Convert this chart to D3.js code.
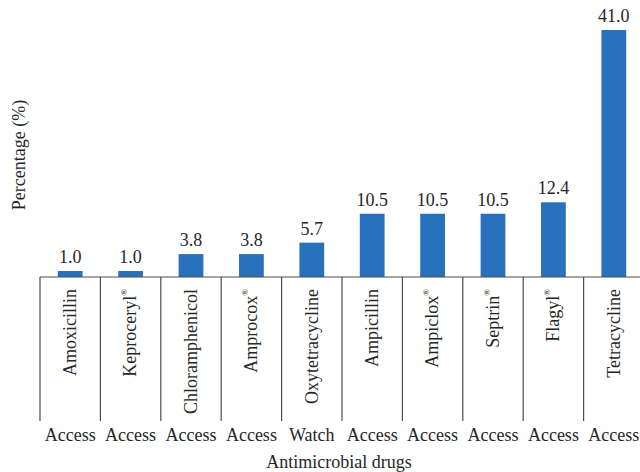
<!DOCTYPE html>
<html>
<head>
<meta charset="utf-8">
<script src="https://cdn.jsdelivr.net/npm/d3@7"></script>
<style>
  body { margin: 0; background: #fff; }
</style>
</head>
<body>
<div id="chart"></div>
<script>
const drugs = ["Amoxicillin", "Keproceryl", "Chloramphenicol", "Amprocox", "Oxytetracycline",
               "Ampicillin", "Ampiclox", "Septrin", "Flagyl", "Tetracycline"];
const registered = [false, true, false, true, false, false, true, true, true, false];
const groups = ["Access", "Access", "Access", "Access", "Watch",
                "Access", "Access", "Access", "Access", "Access"];
const percentages = [1.0, 1.0, 3.8, 3.8, 5.7, 10.5, 10.5, 10.5, 12.4, 41.0];

const width = 640, height = 472;
const margin = { left: 40, right: -4, top: 30, bottom: 195 };
const baseY = height - margin.bottom;
const fs = 18;

const svg = d3.select("#chart").append("svg")
    .attr("width", width)
    .attr("height", height)
    .attr("font-family", "'Liberation Serif', 'Times New Roman', serif")
    .attr("fill", "#262626");

const x = d3.scaleBand()
    .domain(drugs)
    .range([margin.left, width - margin.right])
    .padding(0);

const y = d3.scaleLinear()
    .domain([0, d3.max(percentages)])
    .range([baseY, margin.top]);

const barW = x.bandwidth() * 0.41;

// bars
svg.append("g").selectAll("rect")
    .data(drugs)
    .join("rect")
    .attr("x", d => x(d) + (x.bandwidth() - barW) / 2)
    .attr("y", (d, i) => y(percentages[i]))
    .attr("width", barW)
    .attr("height", (d, i) => baseY - y(percentages[i]))
    .attr("fill", "#2771bd");

// value labels
svg.append("g").selectAll("text")
    .data(drugs)
    .join("text")
    .attr("x", d => x(d) + x.bandwidth() / 2)
    .attr("y", (d, i) => y(percentages[i]) - 8)
    .attr("text-anchor", "middle")
    .attr("font-size", fs)
    .text((d, i) => percentages[i].toFixed(1));

// axis line + category separators
const axisG = svg.append("g").attr("stroke", "#4d4d4d").attr("stroke-width", 1.2);
axisG.append("line")
    .attr("x1", margin.left).attr("x2", width)
    .attr("y1", baseY).attr("y2", baseY);
axisG.selectAll("line.sep")
    .data(drugs)
    .join("line")
    .attr("class", "sep")
    .attr("x1", d => x(d)).attr("x2", d => x(d))
    .attr("y1", baseY).attr("y2", baseY + 144);

// rotated drug names
const names = svg.append("g").selectAll("text")
    .data(drugs)
    .join("text")
    .attr("transform", d => `translate(${x(d) + x.bandwidth() / 2},${baseY + 12}) rotate(-90)`)
    .attr("dy", "0.32em")
    .attr("text-anchor", "end")
    .attr("font-size", fs);
names.append("tspan").text(d => d);
names.filter((d, i) => registered[i])
    .append("tspan")
    .attr("font-size", 9)
    .attr("dy", "-1em")
    .text("®");

// group labels
svg.append("g").selectAll("text")
    .data(drugs)
    .join("text")
    .attr("x", d => x(d) + x.bandwidth() / 2)
    .attr("y", baseY + 164)
    .attr("text-anchor", "middle")
    .attr("font-size", fs)
    .text((d, i) => groups[i]);

// axis titles
svg.append("text")
    .attr("x", 339)
    .attr("y", 468)
    .attr("text-anchor", "middle")
    .attr("font-size", fs)
    .text("Antimicrobial drugs");

svg.append("text")
    .attr("transform", "translate(25,155) rotate(-90)")
    .attr("text-anchor", "middle")
    .attr("font-size", fs)
    .text("Percentage (%)");
</script>
</body>
</html>
